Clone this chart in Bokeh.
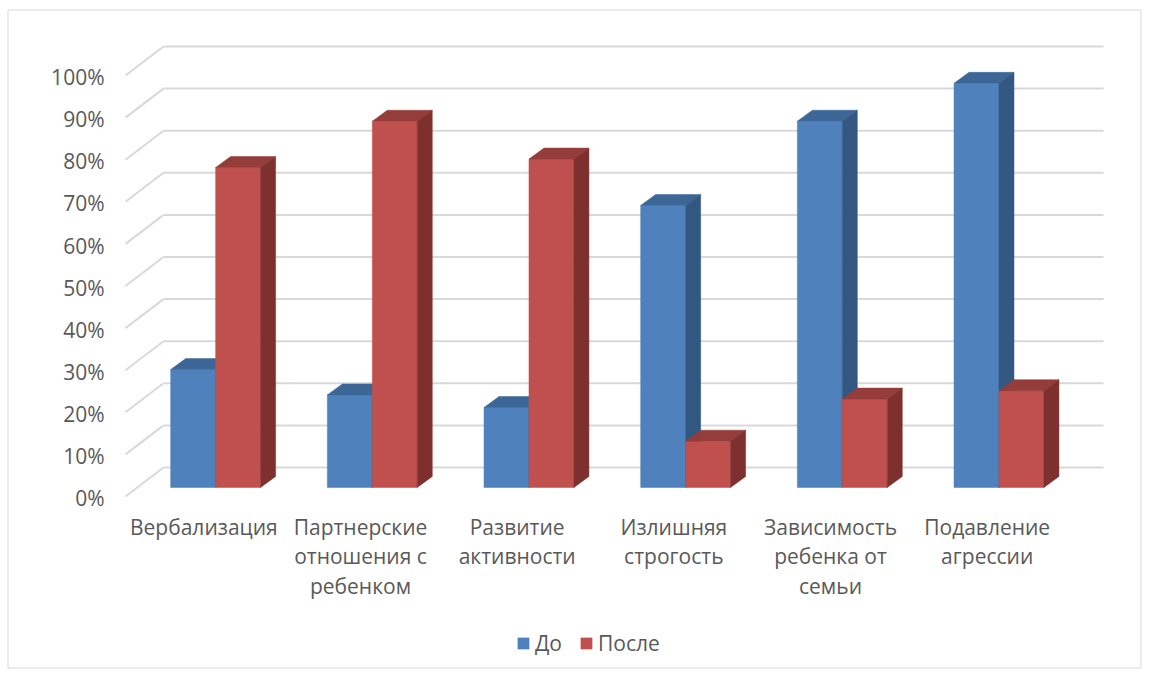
from bokeh.plotting import figure
from bokeh.models import Range1d, Legend, LegendItem
from bokeh.embed import file_html
from bokeh.resources import INLINE
from bokeh.core.properties import value

# ---- data ---------------------------------------------------------------
categories = [
    "Вербализация",
    "Партнерские\nотношения с\nребенком",
    "Развитие\nактивности",
    "Излишняя\nстрогость",
    "Зависимость\nребенка от\nсемьи",
    "Подавление\nагрессии",
]
series_names = ["До", "После"]
before = [28, 22, 19, 67, 87, 96]   # %
after = [76, 87, 78, 11, 21, 23]    # %
y_ticks = [0, 10, 20, 30, 40, 50, 60, 70, 80, 90, 100]

# ---- layout constants (pixels) ---------------------------------------------
W, H = 1149, 675
PX_CAT = 156.67      # pixels per category
PX_PCT = 4.21        # pixels per percent
X0, Y0 = 125, 496    # canvas position of the front-left floor corner

WALL_DX, WALL_DY = 38 / PX_CAT, 29 / PX_PCT      # floor depth (oblique)
FRONT_DX, FRONT_DY = 11.8 / PX_CAT, 9 / PX_PCT   # bar front plane inset
DEPTH_DX, DEPTH_DY = 15 / PX_CAT, 11 / PX_PCT    # bar depth
BAR_W = 0.287
BAR_GAP = (1 - 2 * BAR_W) / 2

FONT = value("Open Sans")
TEXT_COLOR = "#595959"
GRID_COLOR = "#D9D9D9"

series_colors = [
    # front, top, side
    ("#4F81BD", "#3C6696", "#325781"),
    ("#C0504D", "#943D3B", "#7D302E"),
]


def cx(px):
    return (px - X0) / PX_CAT


def cy(py):
    return (Y0 - py) / PX_PCT


p = figure(
    width=W, height=H,
    x_range=Range1d(cx(0), cx(W)),
    y_range=Range1d(cy(H), cy(0)),
    output_backend="svg",
    toolbar_location=None,
    x_axis_location=None,
    y_axis_location=None,
    min_border=0,
)
p.grid.visible = False
p.outline_line_color = None
p.background_fill_color = "white"
p.border_fill_color = "white"

# chart area border
p.quad(left=cx(7.5), right=cx(1140.5), top=cy(9.5), bottom=cy(667.5),
       fill_color=None, line_color=GRID_COLOR, line_width=1)

# gridlines: side-wall diagonals and back-wall horizontals
n = len(categories)
p.segment(x0=[0] * len(y_ticks), y0=y_ticks,
          x1=[WALL_DX] * len(y_ticks), y1=[t + WALL_DY for t in y_ticks],
          line_color=GRID_COLOR, line_width=2)
p.segment(x0=[WALL_DX] * len(y_ticks), y0=[t + WALL_DY for t in y_ticks],
          x1=[n + WALL_DX] * len(y_ticks), y1=[t + WALL_DY for t in y_ticks],
          line_color=GRID_COLOR, line_width=2)

# y tick labels
p.text(x=[cx(104)] * len(y_ticks), y=[t - 0.4 for t in y_ticks],
       text=[f"{t}%" for t in y_ticks],
       text_font=FONT, text_font_size="21px", text_color=TEXT_COLOR,
       text_align="right", text_baseline="middle")


def bar_faces(cat_idx, val, s_idx):
    x0 = cat_idx + FRONT_DX + BAR_GAP + s_idx * BAR_W
    x1 = x0 + BAR_W
    b = FRONT_DY
    t = FRONT_DY + val
    front = ([x0, x1, x1, x0], [b, b, t, t])
    top = ([x0, x1, x1 + DEPTH_DX, x0 + DEPTH_DX],
           [t, t, t + DEPTH_DY, t + DEPTH_DY])
    side = ([x1, x1 + DEPTH_DX, x1 + DEPTH_DX, x1],
            [b, b + DEPTH_DY, t + DEPTH_DY, t])
    return front, top, side


# bars, drawn left to right so each bar hides its neighbour's side face
legend_renderers = {}
for i in range(n):
    for s, vals in enumerate([before, after]):
        front, top, side = bar_faces(i, vals[i], s)
        cf, ct, cs = series_colors[s]
        r = p.patch(x=front[0], y=front[1], fill_color=cf, line_color=cf, line_width=0.5)
        p.patch(x=top[0], y=top[1], fill_color=ct, line_color=ct, line_width=0.5)
        p.patch(x=side[0], y=side[1], fill_color=cs, line_color=cs, line_width=0.5)
        legend_renderers.setdefault(s, r)

# category labels under the floor
p.text(x=[i + 0.5 for i in range(n)], y=[cy(512)] * n, text=categories,
       text_font=FONT, text_font_size="21px", text_color=TEXT_COLOR,
       text_align="center", text_baseline="top", text_line_height=1.07)

legend = Legend(
    items=[LegendItem(label=series_names[s], renderers=[legend_renderers[s]])
           for s in range(2)],
    orientation="horizontal",
    location=(516, 18),
    glyph_width=14, glyph_height=14,
    label_standoff=5, spacing=17,
    padding=0, margin=0,
    label_height=14,
    border_line_color=None,
    background_fill_alpha=0,
    label_text_font="Open Sans",
    label_text_font_size="21px",
    label_text_color=TEXT_COLOR,
)
p.add_layout(legend)

open("out.html", "w").write(file_html(p, INLINE))
